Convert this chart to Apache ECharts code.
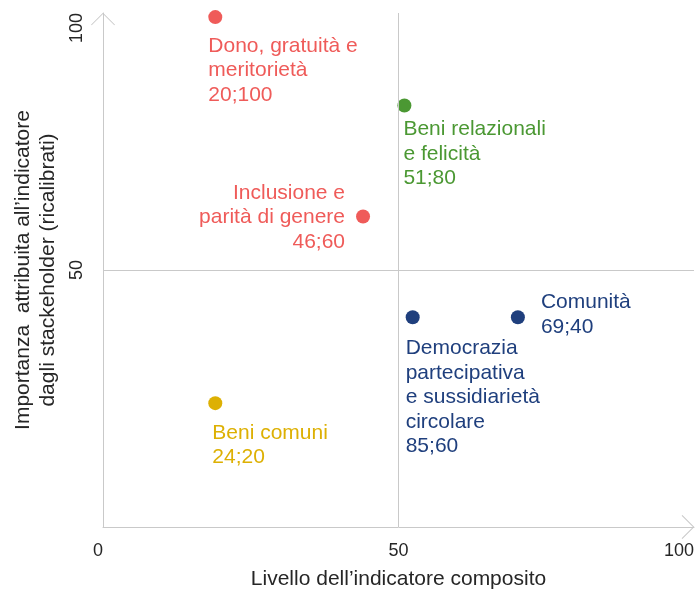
<!DOCTYPE html>
<html>
<head>
<meta charset="utf-8">
<script src="https://cdn.jsdelivr.net/npm/echarts@6/dist/echarts.min.js"></script>
<style>
  html, body { margin: 0; padding: 0; background: #fff; }
  #chart { width: 695px; height: 592px; }
</style>
</head>
<body>
<div id="chart"></div>
<script>
// dati
const names = [
  'Dono, gratuità e\nmeritorietà',
  'Beni relazionali\ne felicità',
  'Inclusione e\nparità di genere',
  'Beni comuni',
  'Democrazia\npartecipativa\ne sussidiarietà\ncircolare',
  'Comunità'
]
const coordLabels = ['20;100', '51;80', '46;60', '24;20', '85;60', '69;40']
const xValues = [19, 51, 44, 19, 52.4, 70.2]
const yValues = [99.2, 82, 60.4, 24.1, 40.8, 40.8]
const xTicks = [0, 50, 100]
const yTicks = [0, 50, 100]

// stile per punto (colore e posizione etichetta)
const colors = ['#ef5b59', '#4b9833', '#ef5b59', '#ddb003', '#1f3f7d', '#1f3f7d']
const labelPos = [[0, 23.5], [6, 18.5], [-11, -29], [4, 24.5], [0, 26], [30, -20]]
const labelAlign = ['left', 'left', 'right', 'left', 'left', 'left']

const FONT = '"Liberation Sans", Arial, Helvetica, sans-serif'
const AXIS_COLOR = '#c9c9c9'
const TEXT_COLOR = '#262626'
// freccia aperta a chevron
const chevron = 'path://M0,0 L12,12 L11.3,12.7 L0,1.4 L-11.3,12.7 L-12,12 Z'

const chart = echarts.init(document.getElementById('chart'))

const points = xValues.map((x, i) => ({
  name: names[i],
  value: [x, yValues[i]],
  itemStyle: { color: colors[i], opacity: 1 },
  label: {
    show: true,
    position: labelPos[i],
    align: labelAlign[i],
    verticalAlign: 'top',
    color: colors[i],
    fontFamily: FONT,
    fontSize: 21,
    lineHeight: 24.5,
    formatter: names[i] + '\n' + coordLabels[i]
  }
}))

chart.setOption({
  animation: false,
  textStyle: { fontFamily: FONT },
  grid: { left: 103, right: 1, top: 13, bottom: 65, containLabel: false, outerBoundsMode: 'none' },
  xAxis: {
    type: 'value',
    min: xTicks[0],
    max: xTicks[xTicks.length - 1],
    interval: 50,
    name: 'Livello dell\u2019indicatore composito',
    nameLocation: 'middle',
    nameGap: 42,
    nameMoveOverlap: false,
    nameTextStyle: { fontSize: 21, color: TEXT_COLOR, fontFamily: FONT },
    axisLine: {
      show: true,
      symbol: ['none', chevron],
      symbolSize: [24, 13],
      symbolOffset: [0, -6],
      lineStyle: { color: AXIS_COLOR, width: 1 }
    },
    axisTick: { show: false },
    splitLine: { show: false },
    axisLabel: {
      margin: 15,
      fontSize: 18,
      color: TEXT_COLOR,
      fontFamily: FONT,
      alignMinLabel: 'right',
      alignMaxLabel: 'right'
    }
  },
  yAxis: {
    type: 'value',
    min: yTicks[0],
    max: yTicks[yTicks.length - 1],
    interval: 50,
    name: 'Importanza  attribuita all\u2019indicatore\ndagli stackeholder (ricalibrati)',
    nameLocation: 'middle',
    nameGap: 42,
    nameRotate: 90,
    nameMoveOverlap: false,
    nameTextStyle: { fontSize: 21, lineHeight: 25, color: TEXT_COLOR, fontFamily: FONT },
    axisLine: {
      show: true,
      symbol: ['none', chevron],
      symbolSize: [24, 13],
      symbolOffset: [0, -6],
      lineStyle: { color: AXIS_COLOR, width: 1 }
    },
    axisTick: { show: false },
    splitLine: { show: false },
    axisLabel: {
      rotate: 90,
      margin: 17,
      fontSize: 18,
      color: TEXT_COLOR,
      fontFamily: FONT,
      showMinLabel: false,
      alignMaxLabel: 'right'
    }
  },
  series: [{
    type: 'scatter',
    symbolSize: 14,
    data: points,
    markLine: {
      silent: true,
      symbol: 'none',
      label: { show: false },
      lineStyle: { color: AXIS_COLOR, width: 1, type: 'solid' },
      data: [{ xAxis: 50 }, { yAxis: 50 }]
    }
  }]
})
</script>
</body>
</html>
